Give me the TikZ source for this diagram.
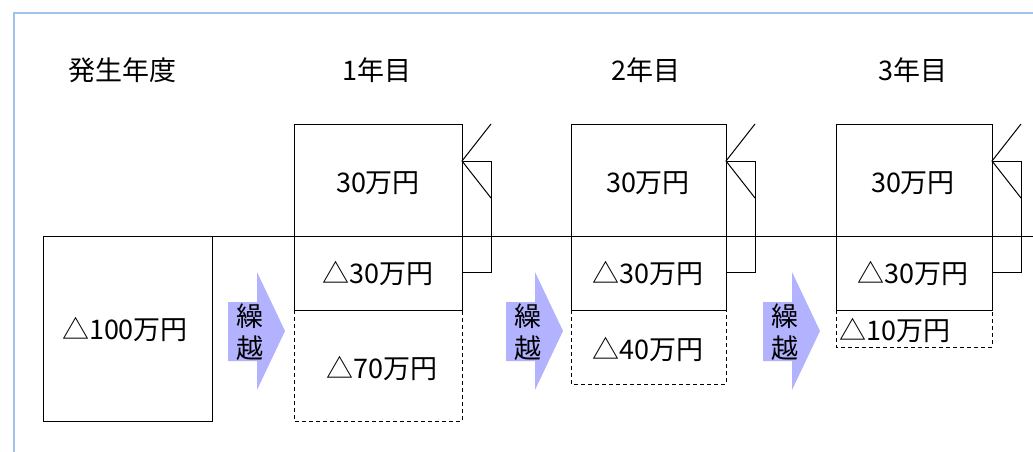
\documentclass[tikz,border=0pt]{standalone}
\usepackage{fontspec}
\newfontfamily\jp{Noto Sans CJK JP}
\definecolor{borderblue}{RGB}{160,195,235}
\definecolor{arrowblue}{RGB}{178,178,255}
\begin{document}
\begin{tikzpicture}[x=1pt,y=-1pt,line width=1pt,
  lbl/.style={font=\jp\fontsize{27}{32}\selectfont,inner sep=0pt},
  vlbl/.style={lbl,align=center},
  dbox/.style={draw=black,dash pattern=on 4pt off 3pt},
  sbox/.style={draw=black},
  carry/.style={fill=arrowblue,draw=none}]
\useasboundingbox (0,0) rectangle (1033,452);
% frame
\draw[borderblue,line width=1.5pt] (14,452) -- (14,13) -- (1033,13);
% headings
\node[lbl] (h0) at (122,70) {発生年度};
\node[lbl] (h1) at (377,70) {1年目};
\node[lbl] (h2) at (646,70) {2年目};
\node[lbl] (h3) at (913,70) {3年目};
% base line and origin box
\draw[sbox] (43,236) -- (1033,236);
\draw[sbox] (43,236) -- (43,421) -- (212,421) -- (212,236);
\node[lbl] (o) at (125,329) {△100万円};
% columns
\foreach \l/\r/\b in {294/462/421,571/726/384,836/992/347}{
  \draw[dbox] (\l,310) rectangle (\r,\b);
  \draw[sbox] (\l,124) rectangle (\r,310);
  \draw[sbox] (\r,161) -- ({\r+29},161) -- ({\r+29},272) -- (\r,272);
  \draw[sbox] ({\r+29},124) -- (\r,161) -- ({\r+29},198);
}
% carry arrows
\foreach \a in {228,506,763}{
  \fill[carry] (\a,302) -- ({\a+29},302) -- ({\a+29},272) -- ({\a+57},331)
     -- ({\a+29},390) -- ({\a+29},361) -- (\a,361) -- cycle;
  \node[vlbl] at ({\a+21.5},332) {繰\\越};
}
% year 1
\node[lbl] (a1) at (378,183) {30万円};
\node[lbl] (b1) at (378,273) {△30万円};
\node[lbl] (c1) at (382,368) {△70万円};
% year 2
\node[lbl] (a2) at (648,183) {30万円};
\node[lbl] (b2) at (648,273) {△30万円};
\node[lbl] (c2) at (648,349) {△40万円};
% year 3
\node[lbl] (a3) at (913,183) {30万円};
\node[lbl] (b3) at (913,273) {△30万円};
\node[lbl,anchor=west] (c3) at (839,330) {△10万円};
\end{tikzpicture}
\end{document}
